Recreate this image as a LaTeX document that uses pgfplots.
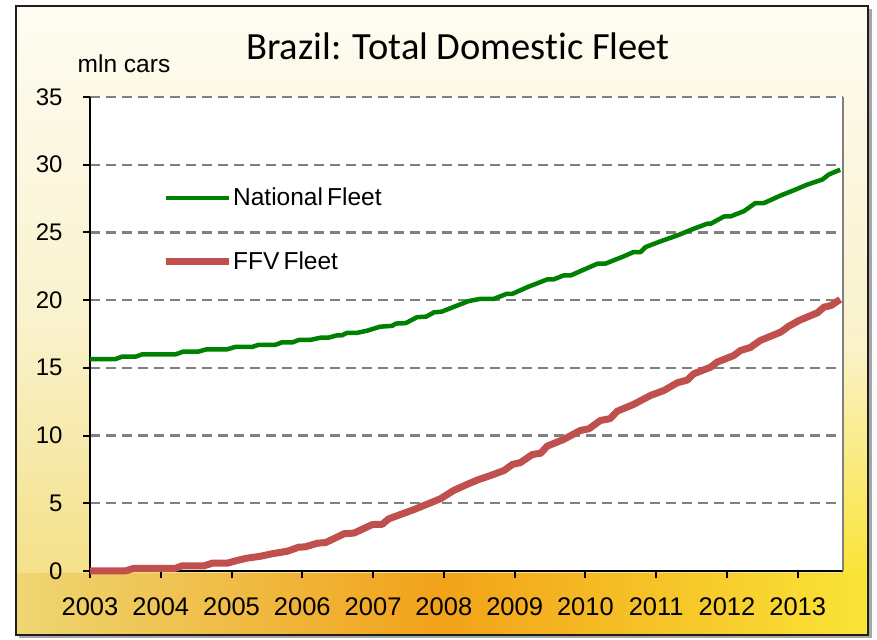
\documentclass[border=0pt]{standalone}
\usepackage{pgfplots}
\pgfplotsset{compat=1.18}
\usepackage{fontspec}
\setmainfont{Liberation Sans}
\newfontfamily\arial{Liberation Sans}
\newfontfamily\calib[Ligatures={NoCommon,NoRare}]{Carlito}
\definecolor{natgreen}{RGB}{0,128,0}
\definecolor{ffvred}{RGB}{192,80,77}
\definecolor{gridgray}{RGB}{128,128,128}
\definecolor{bgtop}{RGB}{254,252,242}
\definecolor{bgmid}{RGB}{250,242,205}
\definecolor{bgbot}{RGB}{242,220,120}
\definecolor{bandL}{RGB}{238,214,115}
\definecolor{bandM}{RGB}{242,162,25}
\definecolor{bandR}{RGB}{250,228,55}
\definecolor{framec}{RGB}{30,30,30}

\pgfplotstableread{
x y
2003.00 15.65
2003.36 15.65
2003.45 15.82
2003.64 15.82
2003.74 16.00
2004.21 16.00
2004.32 16.20
2004.53 16.20
2004.65 16.37
2004.94 16.37
2005.05 16.54
2005.29 16.54
2005.38 16.70
2005.62 16.70
2005.71 16.88
2005.86 16.88
2005.95 17.06
2006.11 17.06
2006.26 17.23
2006.37 17.23
2006.49 17.40
2006.56 17.40
2006.63 17.58
2006.77 17.58
2006.92 17.75
2007.10 18.04
2007.27 18.10
2007.32 18.27
2007.46 18.30
2007.62 18.74
2007.75 18.78
2007.86 19.10
2007.97 19.15
2008.14 19.50
2008.35 19.93
2008.52 20.10
2008.71 20.10
2008.89 20.47
2008.97 20.47
2009.18 20.96
2009.46 21.53
2009.55 21.53
2009.69 21.82
2009.79 21.82
2010.03 22.37
2010.17 22.69
2010.28 22.69
2010.54 23.23
2010.68 23.55
2010.78 23.55
2010.85 23.92
2011.06 24.34
2011.30 24.78
2011.53 25.27
2011.72 25.64
2011.77 25.64
2011.96 26.18
2012.05 26.18
2012.24 26.57
2012.40 27.16
2012.52 27.16
2012.76 27.73
2012.94 28.10
2013.13 28.52
2013.35 28.91
2013.44 29.28
2013.60 29.63
}\national

\pgfplotstableread{
x y
2003.00 0.00
2003.50 0.00
2003.62 0.20
2004.21 0.20
2004.30 0.38
2004.61 0.38
2004.73 0.58
2004.94 0.58
2005.08 0.78
2005.22 0.95
2005.41 1.09
2005.57 1.27
2005.79 1.46
2005.95 1.76
2006.04 1.78
2006.21 2.05
2006.33 2.10
2006.59 2.75
2006.73 2.80
2006.99 3.43
2007.13 3.45
2007.22 3.85
2007.57 4.52
2007.95 5.33
2008.14 5.95
2008.33 6.40
2008.49 6.75
2008.66 7.05
2008.85 7.42
2008.97 7.87
2009.08 8.00
2009.25 8.60
2009.37 8.70
2009.46 9.22
2009.69 9.71
2009.93 10.38
2010.05 10.50
2010.21 11.11
2010.35 11.25
2010.45 11.80
2010.68 12.30
2010.92 12.96
2011.11 13.33
2011.30 13.90
2011.44 14.10
2011.53 14.56
2011.77 15.05
2011.86 15.42
2012.10 15.92
2012.19 16.28
2012.33 16.50
2012.47 17.02
2012.76 17.64
2012.87 18.06
2013.02 18.50
2013.28 19.07
2013.37 19.48
2013.47 19.60
2013.60 20.05
}\ffv

\begin{document}
\begin{tikzpicture}[x=1bp,y=1bp]
\useasboundingbox (0,0) rectangle (877,640);
\fill[white] (0,0) rectangle (877,640);
% frame shadow
\fill[gray!70] (19,2) rectangle (872,631);
% background
\shade[top color=bgtop, bottom color=bgbot, middle color=bgmid] (16,5) rectangle (868,634);
\shade[left color=bandL, right color=bandR, middle color=bandM] (16,5) rectangle (868,66);
\shade[top color=bgmid, bottom color=bandR] (843,66) rectangle (868,300);
\draw[framec, line width=2.5bp] (16,5) rectangle (868,634);

\begin{axis}[
  at={(90bp,69bp)}, anchor=south west,
  scale only axis, width=753bp, height=474bp,
  xmin=2003, xmax=2013.64, ymin=0, ymax=35,
  axis background/.style={fill=white},
  axis x line*=bottom, axis y line*=left,
  x axis line style={black, line width=2bp, -},
  y axis line style={black, line width=2bp, -},
  xtick={2003,2004,2005,2006,2007,2008,2009,2010,2011,2012,2013},
  xticklabels={2003,2004,2005,2006,2007,2008,2009,2010,2011,2012,2013},
  ytick={0,5,10,15,20,25,30,35},
  tick align=outside,
  major tick length=7bp,
  tick style={black, line width=2bp},
  ymajorgrids,
  grid style={gridgray, line width=2.2bp, dash pattern=on 10bp off 6bp},
  /pgf/number format/assume math mode=true,
  xticklabel style={font=\arial\fontsize{25.5bp}{30bp}\selectfont, yshift=-16bp},
  yticklabel style={font=\arial\fontsize{24bp}{28bp}\selectfont, xshift=-17bp},
  legend style={draw=none, fill=none, at={(0.0956,0.7205)}, anchor=west,
    font=\arial\fontsize{24.5bp}{29bp}\selectfont, inner sep=0pt,
    row sep=40bp,
    nodes={inner xsep=1bp}},
  legend cell align=left,
  legend image code/.code={\draw[#1] (0bp,0bp) -- (63bp,0bp);},
  clip=false,
]
\addplot[natgreen, line width=4.5bp, line join=round] table[x=x,y=y] {\national};
\addlegendentry{National\,Fleet}
\addplot[ffvred, line width=7bp, line join=round] table[x=x,y=y] {\ffv};
\addlegendentry{FFV\,Fleet}
\draw[gridgray, line width=2bp] (rel axis cs:1,0) -- (rel axis cs:1,1);
\end{axis}

\node[font=\calib\fontsize{38.5bp}{44bp}\selectfont] at (458,594) {Brazil: Total Domestic Fleet};
\node[font=\arial\fontsize{24.5bp}{29bp}\selectfont] at (124,576) {mln cars};
\end{tikzpicture}
\end{document}
